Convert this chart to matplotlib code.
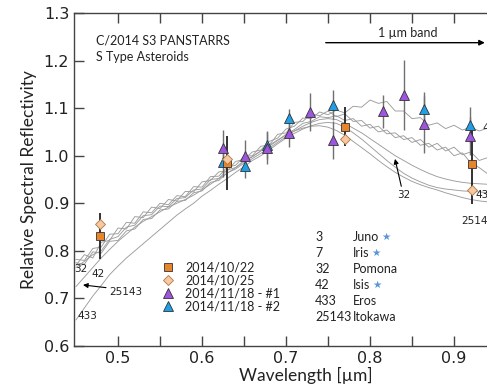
import matplotlib
matplotlib.use("Agg")
import matplotlib.pyplot as plt
from matplotlib.lines import Line2D

# ---------------- data ----------------
wl = [0.45, 0.46, 0.47, 0.48, 0.49, 0.50, 0.51, 0.52, 0.53, 0.54,
      0.55, 0.56, 0.57, 0.58, 0.59, 0.60, 0.61, 0.62, 0.63, 0.64,
      0.65, 0.66, 0.67, 0.68, 0.69, 0.70, 0.71, 0.72, 0.73, 0.74,
      0.75, 0.76, 0.77, 0.78, 0.79, 0.80, 0.81, 0.82, 0.83, 0.84,
      0.85, 0.86, 0.87, 0.88, 0.89, 0.90, 0.91, 0.92, 0.93, 0.94]

isis42 = [0.770, 0.792, 0.785, 0.818, 0.822, 0.848, 0.846, 0.872, 0.870, 0.892,
          0.889, 0.908, 0.905, 0.925, 0.924, 0.945, 0.948, 0.966, 0.968, 0.988,
          0.992, 1.008, 1.012, 1.030, 1.037, 1.056, 1.062, 1.079, 1.078, 1.092,
          1.086, 1.096, 1.090, 1.104, 1.102, 1.117, 1.110, 1.114, 1.094, 1.094,
          1.078, 1.080, 1.064, 1.069, 1.057, 1.064, 1.054, 1.060, 1.052, 1.058]

juno3 = [0.782, 0.780, 0.805, 0.808, 0.835, 0.836, 0.860, 0.858, 0.882, 0.880,
         0.900, 0.897, 0.916, 0.914, 0.935, 0.934, 0.956, 0.957, 0.976, 0.980,
         0.998, 1.000, 1.020, 1.022, 1.045, 1.048, 1.070, 1.072, 1.088, 1.084,
         1.094, 1.082, 1.088, 1.072, 1.074, 1.058, 1.062, 1.046, 1.048, 1.034,
         1.038, 1.022, 1.026, 1.012, 1.018, 1.000, 1.006, 0.985, 0.975, 0.962]

iris7 = [0.765, 0.778, 0.792, 0.800, 0.824, 0.830, 0.850, 0.854, 0.874, 0.876,
         0.894, 0.893, 0.910, 0.912, 0.928, 0.930, 0.950, 0.952, 0.970, 0.975,
         0.990, 0.998, 1.010, 1.020, 1.032, 1.045, 1.055, 1.068, 1.072, 1.082,
         1.080, 1.084, 1.074, 1.078, 1.062, 1.066, 1.050, 1.054, 1.038, 1.042,
         1.028, 1.034, 1.018, 1.026, 1.010, 1.018, 1.002, 1.008, 0.990, 0.996]

pomona32 = [0.775, 0.772, 0.798, 0.795, 0.820, 0.822, 0.842, 0.846, 0.866, 0.868,
            0.886, 0.888, 0.904, 0.906, 0.922, 0.926, 0.944, 0.948, 0.964, 0.972,
            0.984, 0.994, 1.005, 1.016, 1.028, 1.040, 1.052, 1.062, 1.070, 1.076,
            1.078, 1.076, 1.068, 1.058, 1.048, 1.036, 1.024, 1.012, 1.000, 0.990,
            0.980, 0.971, 0.963, 0.956, 0.951, 0.947, 0.944, 0.942, 0.941, 0.940]

eros433 = [0.655, 0.680, 0.705, 0.727, 0.750, 0.768, 0.785, 0.800, 0.815, 0.830,
           0.845, 0.860, 0.875, 0.888, 0.900, 0.915, 0.927, 0.940, 0.952, 0.965,
           0.977, 0.990, 1.000, 1.012, 1.025, 1.037, 1.047, 1.056, 1.063, 1.068,
           1.070, 1.068, 1.060, 1.048, 1.035, 1.020, 1.005, 0.990, 0.976, 0.963,
           0.953, 0.945, 0.938, 0.933, 0.930, 0.928, 0.926, 0.925, 0.924, 0.922]

itokawa25143 = [0.725, 0.745, 0.765, 0.785, 0.803, 0.820, 0.835, 0.850, 0.862, 0.872,
                0.882, 0.892, 0.900, 0.908, 0.917, 0.928, 0.940, 0.952, 0.963, 0.975,
                0.987, 0.998, 1.010, 1.022, 1.033, 1.043, 1.052, 1.058, 1.062, 1.063,
                1.060, 1.053, 1.043, 1.030, 1.017, 1.004, 0.990, 0.977, 0.965, 0.955,
                0.946, 0.939, 0.933, 0.928, 0.922, 0.917, 0.912, 0.908, 0.905, 0.903]

spectra = [isis42, juno3, iris7, pomona32, eros433, itokawa25143]

# comet observations
sq_x = [0.478, 0.630, 0.770, 0.921]
sq_y = [0.831, 0.985, 1.061, 0.982]
sq_err = [0.048, 0.057, 0.041, 0.083]

dm_x = [0.478, 0.630, 0.770, 0.921]
dm_y = [0.856, 0.993, 1.036, 0.927]

pu_x = [0.625, 0.651, 0.677, 0.703, 0.729, 0.756, 0.815, 0.840, 0.864, 0.919]
pu_y = [1.016, 1.000, 1.016, 1.048, 1.091, 1.033, 1.093, 1.128, 1.066, 1.042]
pu_err = [0.038, 0.033, 0.034, 0.030, 0.040, 0.040, 0.035, 0.073, 0.060, 0.040]

bl_x = [0.625, 0.651, 0.677, 0.703, 0.756, 0.864, 0.919]
bl_y = [0.986, 0.979, 1.023, 1.079, 1.107, 1.098, 1.065]
bl_err = [0.030, 0.025, 0.030, 0.020, 0.031, 0.035, 0.038]

series_labels = ["2014/10/22", "2014/10/25", "2014/11/18 - #1", "2014/11/18 - #2"]
ast_numbers = ["3", "7", "32", "42", "433", "25143"]
ast_names = ["Juno", "Iris", "Pomona", "Isis", "Eros", "Itokawa"]
ast_star = [True, True, False, True, False, False]

# ---------------- figure ----------------
fig = plt.figure(figsize=(4.87, 3.91), dpi=100)
ax = fig.add_axes([74/487, 45/391, 464/487, 333/391])
ax.set_xlim(0.4476, 1.0)
ax.set_ylim(0.6, 1.3)

for s in spectra:
    ax.plot(wl, s, color="#9c9c9c", lw=0.65, zorder=1)

c_sq = "#E8842A"
c_dm = "#F8C8A0"
c_pu = "#A055E0"
c_bl = "#1E9FE6"
edge = "#333333"

ax.errorbar(pu_x, pu_y, yerr=pu_err, fmt="none", ecolor="#707070", elinewidth=1.0, zorder=2)
ax.errorbar(bl_x, bl_y, yerr=bl_err, fmt="none", ecolor="#707070", elinewidth=1.0, zorder=2)
ax.errorbar(sq_x, sq_y, yerr=sq_err, fmt="none", ecolor="#222222", elinewidth=1.3, zorder=3)

ax.plot(sq_x, sq_y, ls="none", marker="s", ms=5.5, mfc=c_sq, mec=edge, mew=0.6, zorder=5)
ax.plot(dm_x, dm_y, ls="none", marker="D", ms=5, mfc=c_dm, mec="#aa7744", mew=0.6, zorder=6)
ax.plot(pu_x, pu_y, ls="none", marker="^", ms=7, mfc=c_pu, mec=edge, mew=0.6, zorder=5)
ax.plot(bl_x, bl_y, ls="none", marker="^", ms=7, mfc=c_bl, mec=edge, mew=0.6, zorder=4)

# axes styling
ax.spines["right"].set_visible(False)
for sp in ["left", "bottom", "top"]:
    ax.spines[sp].set_color("#444444")
    ax.spines[sp].set_linewidth(1.0)
ax.set_xticks([0.5, 0.6, 0.7, 0.8, 0.9])
ax.set_xticks([0.55, 0.65, 0.75, 0.85, 0.95], minor=True)
ax.set_yticks([0.6, 0.7, 0.8, 0.9, 1.0, 1.1, 1.2, 1.3])
ax.tick_params(axis="both", which="both", direction="in", length=7, width=1,
               color="#444444", top=True, labelsize=11.5, labelcolor="#222222")
ax.tick_params(axis="y", which="both", right=False)
ax.set_xlabel("Wavelength [µm]", fontsize=12.5, family="Lato", labelpad=1, color="#222222")
ax.set_ylabel("Relative Spectral Reflectivity", fontsize=12.5, family="Lato", labelpad=5,
              color="#222222")

tf = dict(family="Lato", fontsize=9, color="#222222")
ax.text(0.4738, 1.243, "C/2014 S3 PANSTARRS", va="center", ha="left", **tf)
ax.text(0.4738, 1.207, "S Type Asteroids", va="center", ha="left", **tf)

ax.annotate("", xy=(0.940, 1.2376), xytext=(0.744, 1.2376),
            arrowprops=dict(arrowstyle="-|>", color="black", lw=1.0, mutation_scale=8))
ax.text(0.845, 1.258, "1 µm band", ha="center", va="center", **tf)

# asteroid list
row_y = [0.8294, 0.7958, 0.7622, 0.7286, 0.6950, 0.6613]
for yv, num, name, st in zip(row_y, ast_numbers, ast_names, ast_star):
    ax.text(0.7345, yv, num, ha="left", va="center", **tf)
    t = ax.text(0.780, yv, name, ha="left", va="center", **tf)
    if st:
        ax.annotate("★", xy=(1, 0.5), xycoords=t, xytext=(1.0, 0), textcoords="offset points",
                    ha="left", va="center", fontsize=7.5, color="#5A95D8",
                    family="DejaVu Sans")

# legend
handles = [
    Line2D([], [], ls="none", marker="s", ms=5.5, mfc=c_sq, mec=edge, mew=0.6),
    Line2D([], [], ls="none", marker="D", ms=5.5, mfc=c_dm, mec="#aa7744", mew=0.6),
    Line2D([], [], ls="none", marker="^", ms=7, mfc=c_pu, mec=edge, mew=0.6),
    Line2D([], [], ls="none", marker="^", ms=7, mfc=c_bl, mec=edge, mew=0.6),
]
leg = ax.legend(handles, series_labels, loc="upper left", bbox_to_anchor=(0.5518, 0.778),
                bbox_transform=ax.transData, frameon=False, borderpad=0, borderaxespad=0,
                handlelength=1.0, handletextpad=0.88, labelspacing=0.08,
                prop={"family": "Lato", "size": 9})
for txt in leg.get_texts():
    txt.set_color("#222222")

# curve labels
lf = dict(family="DejaVu Sans", fontsize=7.5, color="#222222")
ax.text(0.4556, 0.761, "32", ha="center", va="center", **lf)
ax.text(0.476, 0.751, "42", ha="center", va="center", **lf)
ax.text(0.509, 0.714, "25143", ha="center", va="center", **lf)
ax.text(0.4635, 0.663, "433", ha="center", va="center", **lf)
ax.annotate("", xy=(0.455, 0.729), xytext=(0.489, 0.722),
            arrowprops=dict(arrowstyle="-|>", color="black", lw=0.8, mutation_scale=7))
ax.text(0.840, 0.918, "32", ha="center", va="center", **lf)
ax.annotate("", xy=(0.829, 0.999), xytext=(0.838, 0.930),
            arrowprops=dict(arrowstyle="-|>", color="black", lw=0.8, mutation_scale=7))
# labels at the right edge are cut by the figure border, as in the reference
ax.text(0.909, 0.862, "25143", ha="left", va="center", **lf)
ax.text(0.926, 0.918, "433", ha="left", va="center", **lf)
ax.text(0.934, 1.058, "42", ha="left", va="center", **lf)

fig.savefig("out.png", dpi=100)
